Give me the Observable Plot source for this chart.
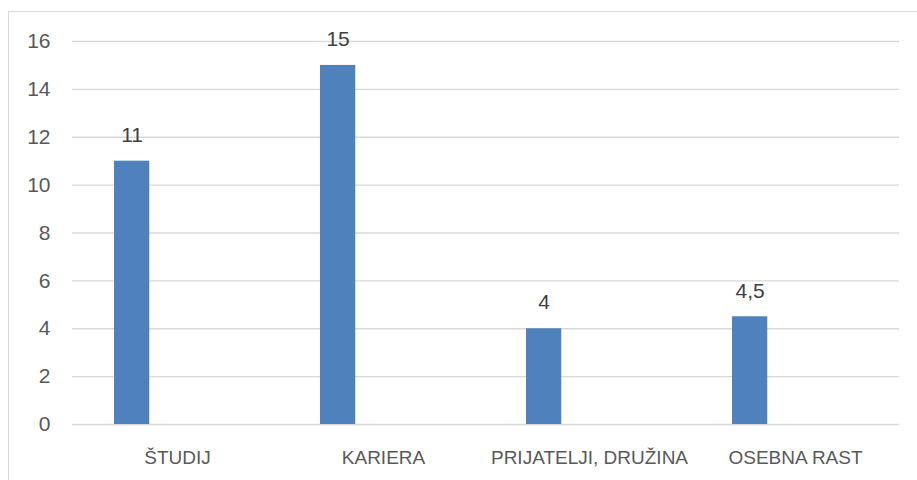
<!DOCTYPE html>
<html><head><meta charset="utf-8">
<script src="https://cdn.jsdelivr.net/npm/d3@7"></script>
<script src="https://cdn.jsdelivr.net/npm/@observablehq/plot@0.6"></script>
<style>
body{margin:0;background:#fff;}
#wrap{position:relative;width:917px;height:480px;overflow:hidden;}
#frame{position:absolute;left:8px;top:11px;width:940px;height:500px;border:1.5px solid #d9d9d9;box-sizing:border-box;pointer-events:none;}
</style></head><body><div id="wrap"><div id="frame"></div></div>
<script>
const categories = ["ŠTUDIJ", "KARIERA", "PRIJATELJI, DRUŽINA", "OSEBNA RAST"];
const values = [11, 15, 4, 4.5];
const yTicks = [0, 2, 4, 6, 8, 10, 12, 14, 16];

const data = categories.map((c, i) => ({category: c, value: values[i]}));
const fmt = v => String(v).replace(".", ",");

const chart = Plot.plot({
  width: 917, height: 480,
  marginLeft: 72, marginRight: 18, marginTop: 41, marginBottom: 56,
  style: {fontFamily: "'Liberation Sans', Arial, sans-serif", background: "transparent"},
  x: {domain: categories, padding: 0, label: null},
  y: {domain: [0, 16], ticks: yTicks, label: null},
  marks: [
    Plot.gridY(yTicks, {stroke: "#d9d9d9", strokeOpacity: 1, strokeWidth: 1.3}),
    Plot.barY(data, {x: "category", y: "value", fill: "#4f81bd", insetLeft: 40, insetRight: 130.75}),
    Plot.text(data, {x: "category", y: "value", text: d => fmt(d.value), dx: -45.4, dy: -26, fontSize: 21, fill: "#404040"}),
    Plot.axisY(yTicks, {tickSize: 0, tickPadding: 22, fontSize: 21, fill: "#595959", label: null}),
    Plot.axisX({tickSize: 0, tickPadding: 26, fontSize: 19, fill: "#595959", label: null})
  ]
});
document.getElementById("wrap").appendChild(chart);
</script>
</body></html>
